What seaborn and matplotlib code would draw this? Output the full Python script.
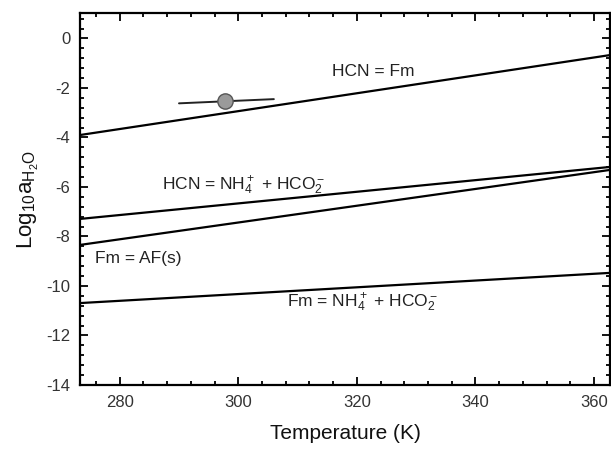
import matplotlib
matplotlib.use("Agg")
import matplotlib.pyplot as plt
import seaborn as sns
import pandas as pd
import numpy as np
from matplotlib.ticker import MultipleLocator

# ---- data ----
T_ends = [273.3, 362.7]
hcn_fm = [-3.9, -0.67]
hcn_nh4 = [-7.29, -5.19]
fm_af = [-8.34, -5.31]
fm_nh4 = [-10.69, -9.47]

point_T = [297.8]
point_y = [-2.53]
err_T = [290.0, 306.0]
err_y = [-2.62, -2.45]

labels = ["HCN = Fm",
          r"HCN = NH$_4^+$ + HCO$_2^-$",
          "Fm = AF(s)",
          r"Fm = NH$_4^+$ + HCO$_2^-$"]
label_T = [315.8, 287.2, 275.8, 308.2]
label_y = [-1.35, -5.96, -8.87, -10.69]

sns.set_theme(style="ticks")
plt.rcParams['font.family'] = ['Liberation Sans', 'DejaVu Sans']
plt.rcParams['mathtext.fontset'] = 'custom'
plt.rcParams['mathtext.rm'] = 'Liberation Sans'
plt.rcParams['mathtext.it'] = 'Liberation Sans:italic'
plt.rcParams['mathtext.bf'] = 'Liberation Sans:bold'
plt.rcParams['axes.unicode_minus'] = False

fig = plt.figure(figsize=(6.11, 4.51), dpi=100)
ax = fig.add_axes([80/611, 1-385/451, 530/611, 372/451])

rows = []
for name, vals in [("a", hcn_fm), ("b", hcn_nh4), ("c", fm_af), ("d", fm_nh4)]:
    for t, v in zip(T_ends, vals):
        rows.append({"T": t, "y": v, "rxn": name})
df = pd.DataFrame(rows)
sns.lineplot(data=df, x="T", y="y", units="rxn", estimator=None,
             color="black", linewidth=1.6, ax=ax, legend=False)

ax.plot(err_T, err_y, color="#222222", linewidth=1.4, zorder=3)
ax.plot(point_T, point_y, "o", markersize=11, markerfacecolor="#9a9a9a",
        markeredgecolor="#555555", markeredgewidth=1.0, zorder=4)

for txt, tx, ty in zip(labels, label_T, label_y):
    ax.text(tx, ty, txt, fontsize=12.5, color="#222222", ha="left", va="center")

ax.set_xlim(273.3, 362.7)
ax.set_ylim(-14, 1.03)
ax.xaxis.set_major_locator(MultipleLocator(20))
ax.xaxis.set_minor_locator(MultipleLocator(4))
ax.yaxis.set_major_locator(MultipleLocator(2))
ax.yaxis.set_minor_locator(MultipleLocator(0.4))
ax.tick_params(which="both", direction="in", top=True, right=True,
               colors="black", labelcolor="#333333", labelsize=12, width=1.3)
ax.tick_params(which="major", length=6, pad=7)
ax.tick_params(which="minor", length=3)
for s in ax.spines.values():
    s.set_linewidth(1.6)
    s.set_color("black")

ax.set_xlabel("Temperature (K)", fontsize=15, color="#111111", labelpad=10)
ax.set_ylabel(r"Log$_{10}$a$_{\mathrm{H_2O}}$", fontsize=16, color="#111111", labelpad=4)

fig.savefig("out.png", dpi=100)
